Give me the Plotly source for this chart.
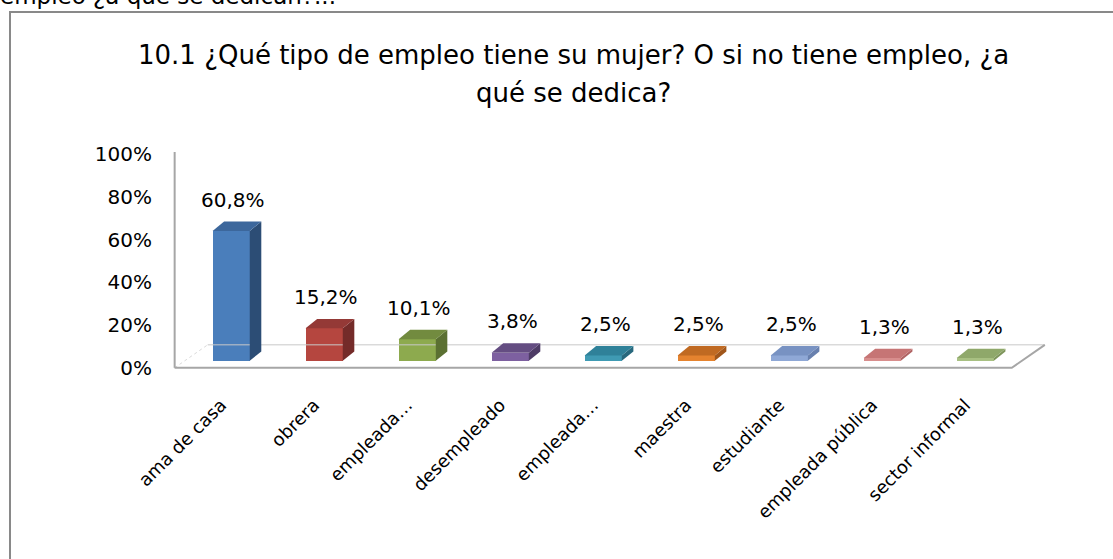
import numpy as np
import plotly.graph_objects as go

# ---- data ----
categories = ["ama de casa", "obrera", "empleada…", "desempleado", "empleada…",
              "maestra", "estudiante", "empleada pública", "sector informal"]
values = [0.608, 0.152, 0.101, 0.038, 0.025, 0.025, 0.025, 0.013, 0.013]
value_labels = ["60,8%", "15,2%", "10,1%", "3,8%", "2,5%", "2,5%", "2,5%", "1,3%", "1,3%"]
y_ticks = [0, 0.2, 0.4, 0.6, 0.8, 1.0]
y_tick_labels = ["0%", "20%", "40%", "60%", "80%", "100%"]
title_line1 = "10.1 ¿Qué tipo de empleo tiene su mujer? O si no tiene empleo, ¿a"
title_line2 = "qué se dedica?"
doc_text = "empleo ¿a qué se dedican?..."

front_colors = ["#4A7EBB", "#B5463F", "#8DAA4E", "#7D60A0", "#3F9AB3",
                "#E5832F", "#8FA8D6", "#D88E8D", "#A8C082"]
top_colors = ["#3C679C", "#943936", "#728B3F", "#644D82", "#2F8199",
              "#C06A22", "#7892C2", "#C67575", "#8FA86A"]
side_colors = ["#2C4D75", "#742B29", "#5B7032", "#4E3C66", "#27687D",
               "#A0561A", "#6880AE", "#B06363", "#7E955B"]

# ---- geometry (style) ----
W, H = 1113, 559
ML, MR, MT, MB = 170, 64, 152, 188
XR = [-0.55, 8.9]
YR = [-0.015, 1.01]
FLOOR_DX, FLOOR_DY = 0.355, 0.1075      # depth of the floor
BAR_X0, BAR_Y0 = 0.1075, 0.0327         # offset of bar front face
BAR_DX, BAR_DY = 0.124, 0.044           # bar depth
BAR_W = 0.4
FONT = "DejaVu Sans"

n = len(categories)
pos = np.arange(n, dtype=float)
vals = np.array(values)

fig = go.Figure()

# floor
left, right = -0.5, n - 0.5
fig.add_trace(go.Scatter(x=[left + FLOOR_DX, right + FLOOR_DX], y=[FLOOR_DY, FLOOR_DY],
                         mode="lines", line=dict(color="#C8C8C8", width=1),
                         hoverinfo="skip", showlegend=False))
fig.add_trace(go.Scatter(x=[left, left + FLOOR_DX], y=[0, FLOOR_DY],
                         mode="lines", line=dict(color="#DADADA", width=1, dash="dot"),
                         hoverinfo="skip", showlegend=False))
fig.add_trace(go.Scatter(x=[left, right, right + FLOOR_DX], y=[0, 0, FLOOR_DY],
                         mode="lines", line=dict(color="#A6A6A6", width=2),
                         hoverinfo="skip", showlegend=False))
# value axis line
fig.add_trace(go.Scatter(x=[left, left], y=[0, YR[1]],
                         mode="lines", line=dict(color="#A6A6A6", width=2),
                         hoverinfo="skip", showlegend=False))

# bar front faces
fig.add_trace(go.Bar(x=pos + BAR_X0, y=vals, base=BAR_Y0, width=BAR_W,
                     marker=dict(color=front_colors, line=dict(width=0)),
                     hoverinfo="skip", showlegend=False))

# side and top faces
for i in range(n):
    xl = pos[i] + BAR_X0 - BAR_W / 2
    xr = pos[i] + BAR_X0 + BAR_W / 2
    yb = BAR_Y0
    yt = BAR_Y0 + vals[i]
    fig.add_trace(go.Scatter(
        x=[xr, xr + BAR_DX, xr + BAR_DX, xr, xr],
        y=[yb, yb + BAR_DY, yt + BAR_DY, yt, yb],
        mode="lines", fill="toself", fillcolor=side_colors[i],
        line=dict(width=0, color=side_colors[i]), hoverinfo="skip", showlegend=False))
    fig.add_trace(go.Scatter(
        x=[xl, xr, xr + BAR_DX, xl + BAR_DX, xl],
        y=[yt, yt, yt + BAR_DY, yt + BAR_DY, yt],
        mode="lines", fill="toself", fillcolor=top_colors[i],
        line=dict(width=0, color=top_colors[i]), hoverinfo="skip", showlegend=False))

# data labels
annotations = []
for i in range(n):
    annotations.append(dict(
        x=pos[i] + BAR_X0 + 0.02, y=BAR_Y0 + vals[i] + BAR_DY, xref="x", yref="y",
        text=value_labels[i], showarrow=False, yanchor="bottom", yshift=8,
        font=dict(family=FONT, size=20, color="#000000")))

pw = W - ML - MR
ph = H - MT - MB


def px_x(p):
    return (p - ML) / pw


def px_y(p):
    return (H - MB - p) / ph


annotations.append(dict(x=px_x(573), y=px_y(55), xref="paper", yref="paper",
                        text=title_line1, showarrow=False, xanchor="center", yanchor="middle",
                        font=dict(family=FONT, size=26, color="#000000")))
annotations.append(dict(x=px_x(573), y=px_y(93), xref="paper", yref="paper",
                        text=title_line2, showarrow=False, xanchor="center", yanchor="middle",
                        font=dict(family=FONT, size=26, color="#000000")))
annotations.append(dict(x=px_x(-2), y=px_y(-4), xref="paper", yref="paper",
                        text=doc_text, showarrow=False, xanchor="left", yanchor="middle",
                        font=dict(family=FONT, size=23, color="#000000")))

shapes = [dict(type="rect", xref="paper", yref="paper",
               x0=px_x(10), x1=px_x(1125), y0=px_y(12), y1=px_y(580),
               line=dict(color="#898989", width=2), fillcolor="rgba(0,0,0,0)", layer="below")]

fig.update_layout(
    width=W, height=H,
    margin=dict(l=ML, r=MR, t=MT, b=MB, pad=0),
    paper_bgcolor="white", plot_bgcolor="white",
    barmode="overlay", bargap=0,
    annotations=annotations, shapes=shapes,
    xaxis=dict(range=XR, tickmode="array", tickvals=pos, ticktext=categories,
               tickangle=-45, showgrid=False, zeroline=False, showline=False,
               ticks="", ticklabelstandoff=19,
               tickfont=dict(family=FONT, size=18, color="#000000")),
    yaxis=dict(range=YR, tickmode="array", tickvals=y_ticks, ticktext=y_tick_labels,
               showgrid=False, zeroline=False, showline=False, ticks="",
               ticklabelstandoff=17,
               tickfont=dict(family=FONT, size=20, color="#000000")),
)

fig.write_html("out.html", config={"displayModeBar": False},
               post_script="document.body.style.margin='0px';document.body.style.overflow='hidden';")
